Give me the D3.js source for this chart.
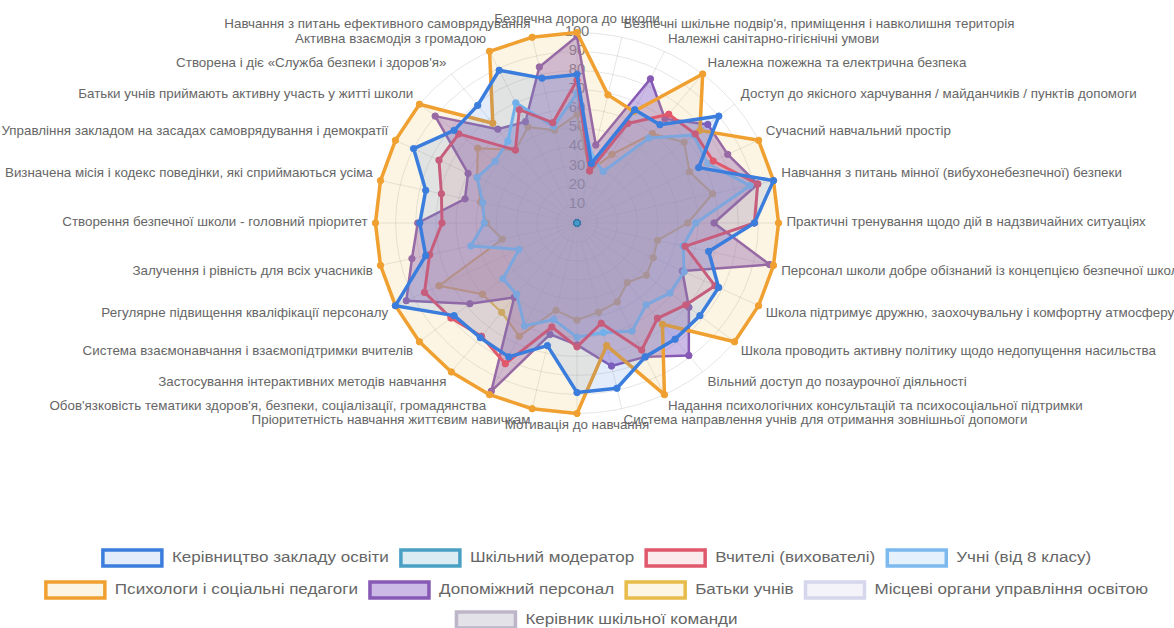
<!DOCTYPE html>
<html>
<head>
<meta charset="utf-8">
<script src="https://cdn.jsdelivr.net/npm/d3@7"></script>
<style>
  body { margin: 0; background: #fff; }
  svg { display: block; font-family: "Liberation Sans", Arial, sans-serif; }
</style>
</head>
<body>
<div id="wrapper"></div>
<script>
// axis labels, clockwise from the top
const axisLabels = [
  "Безпечна дорога до школи",
  "Безпечні шкільне подвір'я, приміщення і навколишня територія",
  "Належні санітарно-гігієнічні умови",
  "Належна пожежна та електрична безпека",
  "Доступ до якісного харчування / майданчиків / пунктів допомоги",
  "Сучасний навчальний простір",
  "Навчання з питань мінної (вибухонебезпечної) безпеки",
  "Практичні тренування щодо дій в надзвичайних ситуаціях",
  "Персонал школи добре обізнаний із концепцією безпечної школи",
  "Школа підтримує дружню, заохочувальну і комфортну атмосферу",
  "Школа проводить активну політику щодо недопущення насильства",
  "Вільний доступ до позаурочної діяльності",
  "Надання психологічних консультацій та психосоціальної підтримки",
  "Система направлення учнів для отримання зовнішньої допомоги",
  "Мотивація до навчання",
  "Пріоритетність навчання життєвим навичкам",
  "Обов'язковість тематики здоров'я, безпеки, соціалізації, громадянства",
  "Застосування інтерактивних методів навчання",
  "Система взаємонавчання і взаємопідтримки вчителів",
  "Регулярне підвищення кваліфікації персоналу",
  "Залучення і рівність для всіх учасників",
  "Створення безпечної школи - головний пріоритет",
  "Визначена місія і кодекс поведінки, які сприймаються усіма",
  "Управління закладом на засадах самоврядування і демократії",
  "Батьки учнів приймають активну участь у житті школи",
  "Створена і діє «Служба безпеки і здоров'я»",
  "Активна взаємодія з громадою",
  "Навчання з питань ефективного самоврядування"
]

const tickValues = [10, 20, 30, 40, 50, 60, 70, 80, 90, 100]

// series values
const kerivnytstvo = [78, 32, 66, 66, 90, 67, 100, 88, 67, 78, 78, 78, 78, 89, 89, 66, 78, 77, 78, 100, 77, 78, 77, 90, 78, 79, 89, 78]
const moderator = [0, 0, 0, 0, 0, 0, 0, 0, 0, 0, 0, 0, 0, 0, 0, 0, 0, 0, 0, 0, 0, 0, 0, 0, 0, 0, 0, 0]
const vchyteli = [75, 28, 58, 73, 75, 75, 92, 88, 55, 76, 69, 64, 74, 54, 65, 56, 82, 76, 80, 84, 75, 67, 69, 76, 75, 49, 66, 54]
const uchni = [68, 35, 30, 57, 74, 72, 88, 59, 54, 59, 59, 55, 63, 59, 60, 52, 60, 48, 47, 32, 54, 46, 48, 55, 52, 55, 70, 52]
const psykholohy = [100, 69, 65, 100, 78, 100, 100, 100, 100, 100, 100, 68, 100, 66, 100, 100, 100, 100, 100, 100, 100, 100, 100, 100, 100, 67, 100, 100]
const personal = [98, 42, 84, 70, 83, 83, 92, 68, 98, 58, 71, 89, 78, 77, 64, 60, 98, 50, 68, 94, 84, 79, 57, 60, 90, 63, 59, 84]
const batky = [57, 28, 40, 60, 68, 62, 69, 55, 41, 42, 44, 40, 46, 48, 51, 47, 66, 60, 60, 76, 38, 45, 49, 55, 63, 49, 56, 50]
const orhany = [0, 0, 0, 0, 0, 0, 0, 0, 0, 0, 0, 0, 0, 0, 0, 0, 0, 0, 0, 0, 0, 0, 0, 0, 0, 0, 0, 0]
const kerivnykKomandy = [0, 0, 0, 0, 0, 0, 0, 0, 0, 0, 0, 0, 0, 0, 0, 0, 0, 0, 0, 0, 0, 0, 0, 0, 0, 0, 0, 0]

const seriesNames = [
  "Керівництво закладу освіти", "Шкільний модератор", "Вчителі (вихователі)", "Учні (від 8 класу)",
  "Психологи і соціальні педагоги", "Допоміжний персонал", "Батьки учнів", "Місцеві органи управління освітою",
  "Керівник шкільної команди"
]
const seriesValues = [kerivnytstvo, moderator, vchyteli, uchni, psykholohy, personal, batky, orhany, kerivnykKomandy]
const strokeColors = ["#3b7ddd", "#4aa0c4", "#e0586c", "#7cb9ee", "#f0a030", "#8659b5", "#e8bc4a", "#d6d6ec", "#bcb6c8"]
const fillColors = [
  "rgba(59,125,221,0.15)", "rgba(74,160,196,0.2)", "rgba(224,88,108,0.12)", "rgba(124,185,238,0.2)",
  "rgba(245,190,80,0.16)", "rgba(140,100,200,0.45)", "rgba(242,194,74,0.15)", "rgba(214,214,236,0.3)",
  "rgba(188,182,200,0.4)"
]
const strokeWidths = [3.5, 2.5, 3, 3, 3.5, 2.5, 2, 2, 2]

// dimensions
const dimensions = { width: 1174, height: 628, cx: 577, cy: 223, radius: 190.5, stretchX: 1.058 }

const svg = d3.select("#wrapper").append("svg")
  .attr("width", dimensions.width)
  .attr("height", dimensions.height)

// scales
const rScale = d3.scaleLinear().domain([0, 100]).range([0, dimensions.radius])
const angleScale = d3.scaleLinear().domain([0, axisLabels.length]).range([0, 2 * Math.PI])

const px = (i, r) => dimensions.cx + dimensions.stretchX * r * Math.sin(angleScale(i))
const py = (i, r) => dimensions.cy - r * Math.cos(angleScale(i))

// grid
const grid = svg.append("g")
grid.selectAll("ellipse").data(tickValues).join("ellipse")
  .attr("cx", dimensions.cx).attr("cy", dimensions.cy)
  .attr("rx", (d) => rScale(d) * dimensions.stretchX)
  .attr("ry", (d) => rScale(d))
  .attr("fill", "none").attr("stroke", "rgba(0,0,0,0.1)")
grid.selectAll("line").data(axisLabels).join("line")
  .attr("x1", dimensions.cx).attr("y1", dimensions.cy)
  .attr("x2", (d, i) => px(i, rScale(100)))
  .attr("y2", (d, i) => py(i, rScale(100)))
  .attr("stroke", "rgba(0,0,0,0.1)")

// tick labels
svg.append("g").selectAll("text").data(tickValues).join("text")
  .attr("transform", (d) => `translate(${dimensions.cx},${dimensions.cy - rScale(d)}) scale(1.06,1)`)
  .attr("text-anchor", "middle")
  .attr("dominant-baseline", "middle")
  .attr("font-size", 14)
  .attr("fill", "#777")
  .text((d) => d)

// point labels
const labelR = 198
svg.append("g").selectAll("text").data(axisLabels).join("text")
  .attr("transform", (d, i) => {
    const c = Math.cos(angleScale(i))
    const y = py(i, labelR) + (Math.abs(c) < 0.01 ? 0 : c > 0 ? -5 : 5)
    return `translate(${px(i, labelR)},${y}) scale(1.07,1)`
  })
  .attr("text-anchor", (d, i) => {
    const s = Math.sin(angleScale(i))
    return Math.abs(s) < 0.01 ? "middle" : s > 0 ? "start" : "end"
  })
  .attr("dominant-baseline", "middle")
  .attr("font-size", 12.5)
  .attr("fill", "#666")
  .text((d) => d)

// datasets, first one on top
const lineGenerator = d3.line()
  .x((d, i) => px(i, rScale(d)))
  .y((d, i) => py(i, rScale(d)))
  .curve(d3.curveLinearClosed)

const order = d3.range(seriesValues.length).reverse()
const layers = svg.append("g").selectAll("g").data(order).join("g")

layers.append("path")
  .attr("d", (k) => lineGenerator(seriesValues[k]))
  .attr("fill", (k) => fillColors[k])
  .attr("stroke", (k) => strokeColors[k])
  .attr("stroke-width", (k) => strokeWidths[k])
  .attr("stroke-linejoin", "round")

layers.each(function (k) {
  d3.select(this).selectAll("circle").data(seriesValues[k]).join("circle")
    .attr("cx", (d, i) => px(i, rScale(d)))
    .attr("cy", (d, i) => py(i, rScale(d)))
    .attr("r", 3.2)
    .attr("fill", strokeColors[k])
    .attr("stroke", k === 1 ? "#2d6f9a" : strokeColors[k])
    .attr("stroke-width", 1)
})

// legend
const legendRows = [[0, 1, 2, 3], [4, 5, 6, 7], [8]]
const legendY = [558, 590, 620]
const legendScale = 1.137
const legend = svg.append("g").attr("font-size", 15).attr("fill", "#666")

legendRows.forEach((row, r) => {
  const rowG = legend.append("g")
  let x = 0
  row.forEach((k) => {
    rowG.append("rect")
      .attr("x", x).attr("y", legendY[r] - 8)
      .attr("width", 59).attr("height", 16)
      .attr("fill", fillColors[k])
      .attr("stroke", strokeColors[k])
      .attr("stroke-width", 3.5)
    const t = rowG.append("text")
      .attr("transform", `translate(${x + 69},${legendY[r]}) scale(${legendScale},1)`)
      .attr("dominant-baseline", "middle")
      .text(seriesNames[k])
    x += 69 + t.node().getComputedTextLength() * legendScale + 12
  })
  const rowWidth = x - 12
  rowG.attr("transform", `translate(${(dimensions.width - rowWidth) / 2 + 10},0)`)
})
</script>
</body>
</html>
